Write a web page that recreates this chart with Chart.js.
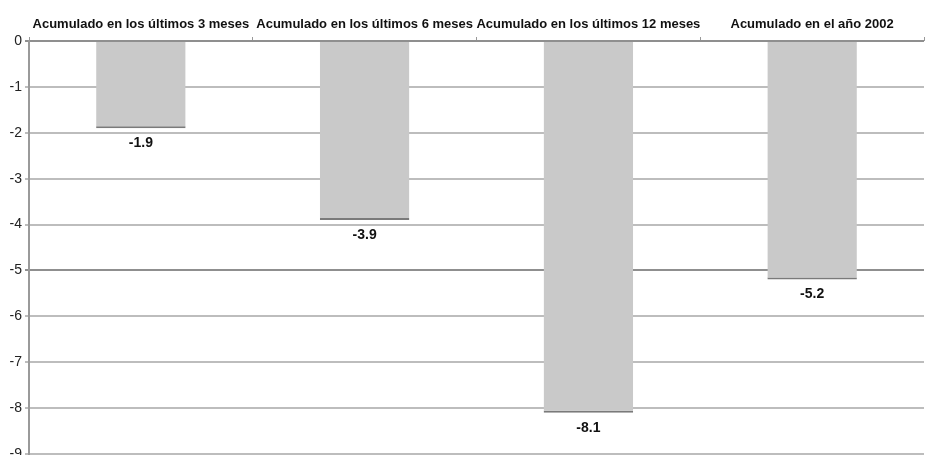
<!DOCTYPE html>
<html lang="es">
<head>
<meta charset="UTF-8">
<title>Acumulado</title>
<script src="https://cdn.jsdelivr.net/npm/chart.js"></script>
<style>
    html, body { margin: 0; padding: 0; background: #fff; overflow: hidden; }
    canvas { display: block; }
</style>
</head>
<body>
<canvas id="chart" width="925" height="470"></canvas>
<script>
const periods = [
    "Acumulado en los últimos 3 meses",
    "Acumulado en los últimos 6 meses",
    "Acumulado en los últimos 12 meses",
    "Acumulado en el año 2002"
];
const values = [-1.9, -3.9, -8.1, -5.2];
const yTicks = [0, -1, -2, -3, -4, -5, -6, -7, -8, -9];

// value printed just under the end of each bar
const barLabels = {
    id: "barLabels",
    afterDatasetsDraw(chart) {
        const ctx = chart.ctx;
        const meta = chart.getDatasetMeta(0);
        ctx.save();
        ctx.font = "bold 14px 'Liberation Sans', Arial, sans-serif";
        ctx.fillStyle = "#111";
        ctx.textAlign = "center";
        ctx.textBaseline = "middle";
        meta.data.forEach((bar, i) => {
            ctx.fillText(values[i].toFixed(1), bar.x, bar.y + 15);
        });
        ctx.restore();
    }
};

new Chart(document.getElementById("chart"), {
    type: "bar",
    data: {
        labels: periods,
        datasets: [{
            data: values,
            backgroundColor: "#c9c9c9",
            borderColor: "#7a7a7a",
            borderWidth: { top: 0, left: 0, right: 0, bottom: 2 },
            borderSkipped: false,
            barPercentage: 0.8,
            categoryPercentage: 0.5
        }]
    },
    options: {
        responsive: false,
        animation: false,
        layout: { padding: { top: 0, right: 1, bottom: 16, left: 0 } },
        plugins: { legend: { display: false }, tooltip: { enabled: false } },
        scales: {
            x: {
                position: "top",
                offset: true,
                afterFit(scale) { scale.height = 41; },
                grid: {
                    offset: true,
                    drawOnChartArea: false,
                    tickLength: 4,
                    color: "#999",
                    lineWidth: 1
                },
                border: { display: false },
                ticks: {
                    maxRotation: 0,
                    autoSkip: false,
                    padding: 5,
                    color: "#111",
                    font: { family: "'Liberation Sans Narrow', 'Arial Narrow', 'Liberation Sans', sans-serif", weight: "bold", size: 13 }
                }
            },
            y: {
                min: -9,
                max: 0,
                afterFit(scale) { scale.width = 29; },
                afterBuildTicks(scale) { scale.ticks = yTicks.map(v => ({ value: v })); },
                grid: {
                    color: ctx => (ctx.tick && (ctx.tick.value === -5 || ctx.tick.value === 0)) ? "#8f8f8f" : "#bdbdbd",
                    lineWidth: 2,
                    tickLength: 4
                },
                border: { display: true, color: "#9a9a9a", width: 2 },
                ticks: {
                    padding: 3,
                    color: "#222",
                    font: { family: "'Liberation Sans', Arial, sans-serif", size: 14 }
                }
            }
        }
    },
    plugins: [barLabels]
});
</script>
</body>
</html>
